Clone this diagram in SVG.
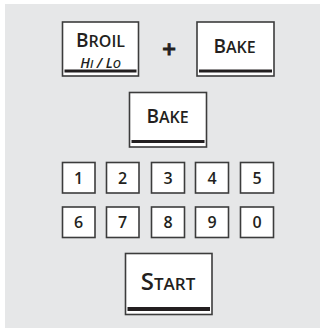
<svg xmlns="http://www.w3.org/2000/svg" width="320" height="328" viewBox="0 0 320 328">
<style>
.key{fill:#fff;stroke:#3c3c3c;stroke-width:1.6}
.bar{fill:#231f20}
text{font-family:"Open Sans","Noto Sans",sans-serif;font-weight:600;fill:#231f20;text-anchor:middle}
.d{font-size:16px}
.lg{font-size:19px}
.sm{font-size:16px}
</style>
<rect x="5" y="4" width="315" height="324" fill="#e6e7e8"/>
<g id="broil">
<rect class="key" x="62.5" y="22" width="76" height="54"/>
<rect class="bar" x="64.5" y="69.5" width="72" height="3"/>
<text x="100.5" y="46.5"><tspan class="lg">B</tspan><tspan class="sm">ROIL</tspan></text>
<text x="100.5" y="67.5" font-style="italic"><tspan font-size="14">H</tspan><tspan font-size="11">I</tspan><tspan font-size="14"> / L</tspan><tspan font-size="11">O</tspan></text>
</g>
<g id="plus"><text x="169" y="57.5" font-size="24" font-weight="700" stroke="#231f20" stroke-width="0.9">+</text></g>
<g id="bake1">
<rect class="key" x="197" y="22" width="77" height="54"/>
<rect class="bar" x="199" y="69.5" width="73" height="3"/>
<text x="234.5" y="53"><tspan class="lg">B</tspan><tspan class="sm">AKE</tspan></text>
</g>
<g id="bake2">
<rect class="key" x="129.5" y="92.5" width="77" height="54.5"/>
<rect class="bar" x="131.5" y="140" width="73" height="3"/>
<text x="167.5" y="123"><tspan class="lg">B</tspan><tspan class="sm">AKE</tspan></text>
</g>
<g id="k1"><rect class="key" x="62.5" y="162.5" width="32.5" height="30.5"/><text class="d" x="78.7" y="183.5">1</text></g>
<g id="k2"><rect class="key" x="106.5" y="162.5" width="32.5" height="30.5"/><text class="d" x="122.7" y="183.5">2</text></g>
<g id="k3"><rect class="key" x="151.5" y="162.5" width="33" height="30.5"/><text class="d" x="168" y="183.5">3</text></g>
<g id="k4"><rect class="key" x="195.5" y="162.5" width="33" height="30.5"/><text class="d" x="212" y="183.5">4</text></g>
<g id="k5"><rect class="key" x="240.5" y="162.5" width="33" height="30.5"/><text class="d" x="257" y="183.5">5</text></g>
<g id="k6"><rect class="key" x="62.5" y="207" width="32.5" height="30.5"/><text class="d" x="78.7" y="227.5">6</text></g>
<g id="k7"><rect class="key" x="106.5" y="207" width="32.5" height="30.5"/><text class="d" x="122.7" y="227.5">7</text></g>
<g id="k8"><rect class="key" x="151.5" y="207" width="33" height="30.5"/><text class="d" x="168" y="227.5">8</text></g>
<g id="k9"><rect class="key" x="195.5" y="207" width="33" height="30.5"/><text class="d" x="212" y="227.5">9</text></g>
<g id="k0"><rect class="key" x="240.5" y="207" width="33" height="30.5"/><text class="d" x="257" y="227.5">0</text></g>
<g id="start">
<rect class="key" x="125.5" y="253.5" width="86.5" height="61"/>
<rect class="bar" x="127.5" y="307" width="82.5" height="4"/>
<text x="168" y="290"><tspan font-size="24">S</tspan><tspan font-size="17">TART</tspan></text>
</g>
<g id="connectors"/>
</svg>
